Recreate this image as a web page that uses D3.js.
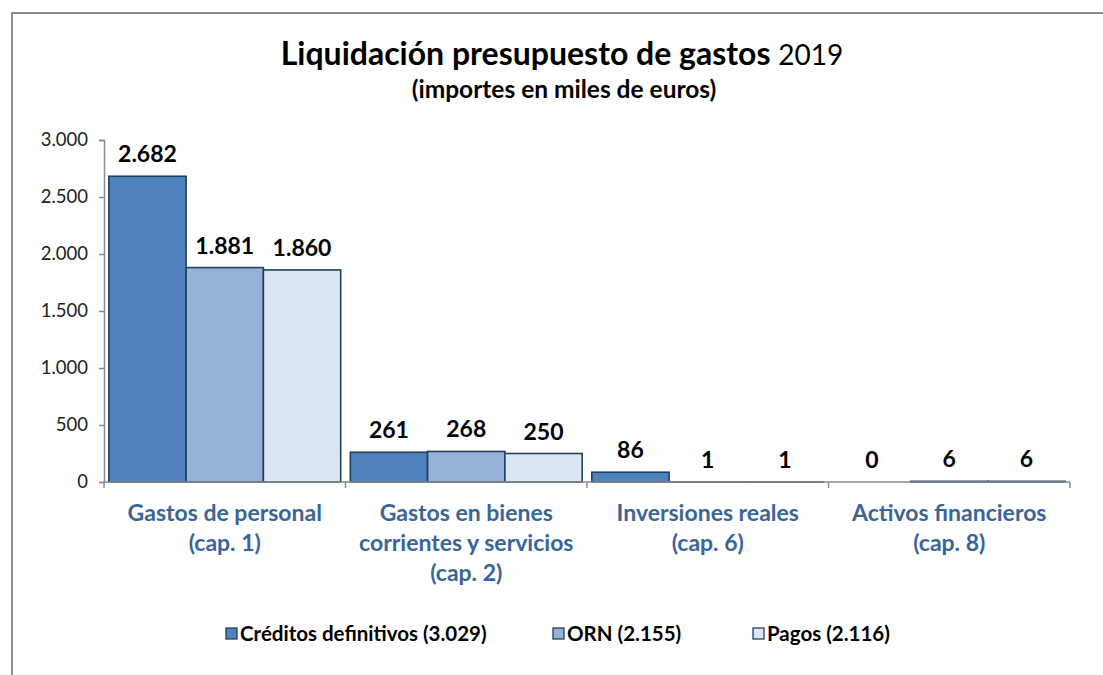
<!DOCTYPE html>
<html><head><meta charset="utf-8">
<script src="https://cdn.jsdelivr.net/npm/d3@7"></script>
<style>
html,body{margin:0;padding:0;background:#fff;}
svg{display:block;}
text{font-family:Lato, "Open Sans", sans-serif;}
</style></head>
<body>
<script>
const categories = [
  ["Gastos de personal", "(cap. 1)"],
  ["Gastos en bienes", "corrientes y servicios", "(cap. 2)"],
  ["Inversiones reales", "(cap. 6)"],
  ["Activos financieros", "(cap. 8)"]
];
const seriesNames = ["Créditos definitivos (3.029)", "ORN (2.155)", "Pagos (2.116)"];
const creditos = [2682, 261, 86, 0];
const orn = [1881, 268, 1, 6];
const pagos = [1860, 250, 1, 6];
const yTicks = [0, 500, 1000, 1500, 2000, 2500, 3000];
const colors = ["#4F81BD", "#95B3D7", "#DCE6F2"];

const series = [creditos, orn, pagos];
const W = 1103, H = 675;
const svg = d3.select("body").append("svg").attr("width", W).attr("height", H);

const loc = d3.formatLocale({decimal: ",", thousands: ".", grouping: [3], currency: ["", "€"]});
const fmt = loc.format(",d");

// outer frame
svg.append("rect").attr("x", 12).attr("y", 13).attr("width", 1200).attr("height", 800)
  .attr("fill", "none").attr("stroke", "#8c8c8c").attr("stroke-width", 2);

// titles
const t = svg.append("text").attr("x", 562).attr("y", 65).attr("text-anchor", "middle")
  .attr("font-size", 32).attr("fill", "#000");
t.append("tspan").attr("font-weight", "bold").text("Liquidación presupuesto de gastos ");
t.append("tspan").attr("font-weight", "normal").attr("font-size", 28).text("2019");
svg.append("text").attr("x", 564).attr("y", 98).attr("text-anchor", "middle")
  .attr("font-size", 24.5).attr("font-weight", "bold").attr("fill", "#000")
  .text("(importes en miles de euros)");

const plotL = 104, plotR = 1070, plotT = 140, plotB = 482;
const y = d3.scaleLinear().domain([0, 3000]).range([plotB, plotT]);
const x0 = d3.scaleBand().domain(d3.range(categories.length)).range([plotL, plotR]).padding(0);
const inner = x0.bandwidth() * 0.96;
const x1 = d3.scaleBand().domain(d3.range(series.length)).range([0, inner]).padding(0);

// y axis
const yAxis = d3.axisLeft(y).tickValues(yTicks).tickFormat(fmt).tickSize(5).tickPadding(11);
const ga = svg.append("g").attr("transform", `translate(${plotL},0)`).call(yAxis);
ga.select(".domain").attr("stroke", "#8c8c8c").attr("stroke-width", 1.5);
ga.selectAll(".tick line").attr("stroke", "#8c8c8c").attr("stroke-width", 1.5);
ga.selectAll(".tick text").attr("font-size", 18.5).attr("fill", "#222")
  .attr("font-family", "Lato, 'Open Sans', sans-serif");

// bars
const groups = svg.selectAll("g.grp").data(categories).enter().append("g")
  .attr("class", "grp")
  .attr("transform", (d, i) => `translate(${x0(i) + (x0.bandwidth() - inner) / 2},0)`);

groups.each(function(c, ci) {
  const g = d3.select(this);
  series.forEach((s, si) => {
    const v = s[ci];
    if (v > 0) {
      g.append("rect")
        .attr("x", x1(si)).attr("width", x1.bandwidth())
        .attr("y", y(v)).attr("height", Math.max(0, y(0) - y(v)))
        .attr("fill", colors[si]).attr("stroke", "#24405F").attr("stroke-width", 1.6);
    }
    g.append("text")
      .attr("x", x1(si) + x1.bandwidth() / 2)
      .attr("y", y(v) - 14)
      .attr("text-anchor", "middle").attr("font-size", 23).attr("font-weight", "bold")
      .attr("fill", "#000").text(fmt(v));
  });
});

// x axis
const xa = svg.append("g");
xa.append("line").attr("x1", plotL).attr("x2", plotR).attr("y1", plotB).attr("y2", plotB)
  .attr("stroke", "#8c8c8c").attr("stroke-width", 1.5);
d3.range(categories.length + 1).forEach(i => {
  const xx = i < categories.length ? x0(i) : plotR;
  xa.append("line").attr("x1", xx).attr("x2", xx).attr("y1", plotB).attr("y2", plotB + 6)
    .attr("stroke", "#8c8c8c").attr("stroke-width", 1.5);
});
categories.forEach((lines, i) => {
  const cx = x0(i) + x0.bandwidth() / 2;
  const tx = svg.append("text").attr("text-anchor", "middle").attr("font-size", 23)
    .attr("font-weight", "bold").attr("fill", "#3A6599");
  lines.forEach((ln, k) => {
    tx.append("tspan").attr("x", cx).attr("y", 521 + k * 30).text(ln);
  });
});

// legend
const legX = [226, 553, 753];
seriesNames.forEach((n, i) => {
  svg.append("rect").attr("x", legX[i]).attr("y", 628).attr("width", 11).attr("height", 11)
    .attr("fill", colors[i]).attr("stroke", "#24405F").attr("stroke-width", 1.3);
  svg.append("text").attr("x", legX[i] + 14).attr("y", 641).attr("font-size", 20.5)
    .attr("font-weight", "bold").attr("fill", "#000").text(n);
});
</script>
</body></html>
